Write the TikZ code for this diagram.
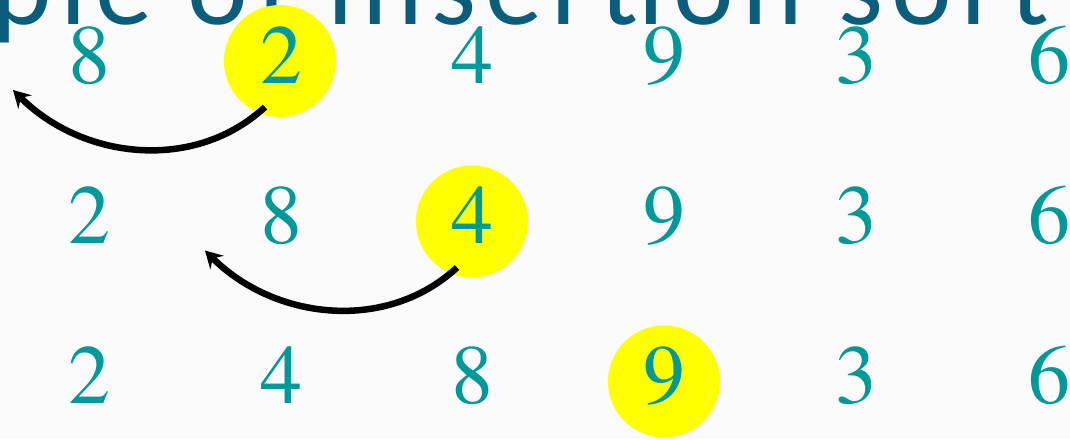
\documentclass[tikz,border=0pt]{standalone}
\usepackage{fontspec}
\usetikzlibrary{arrows.meta,calc}
\IfFontExistsTF{texgyretermes-regular.otf}
  {\newfontfamily\digitfont{texgyretermes-regular.otf}}
  {\IfFontExistsTF{LiberationSerif-Regular.ttf}
    {\newfontfamily\digitfont{LiberationSerif-Regular.ttf}}
    {\newfontfamily\digitfont{Latin Modern Roman}}}
\newfontfamily\titlefont[LetterSpace=7.7]{Carlito}
\definecolor{bgcol}{HTML}{FAFAFA}
\definecolor{titleblue}{HTML}{0B5E7B}
\definecolor{digitteal}{HTML}{009999}
\definecolor{hilite}{HTML}{FFFF00}
\tikzset{
  num/.style={anchor=base, inner sep=0pt, text=digitteal, font=\digitfont\fontsize{84}{90}\selectfont},
  hl/.style={circle, fill=hilite, minimum size=112pt, inner sep=0pt},
  moveline/.style={line width=6.5pt, draw=black, -{Stealth[length=17pt,width=19pt,inset=6pt]}},
  titletext/.style={anchor=base west, inner sep=0pt, text=titleblue, font=\titlefont\fontsize{115}{125}\selectfont}
}
\begin{document}
\begin{tikzpicture}[x=1pt,y=-1pt]
\useasboundingbox (0,0) rectangle (1070,439);
\clip (0,0) rectangle (1070,439);
\fill[bgcol] (0,0) rectangle (1070,439);
% title (partly cut off)
\node[titletext] (title) at (-9,24) {ple of insertion sort};
% highlight circles
\node[hl] (h1) at (280,61) {};
\node[hl] (h2) at (472,221.5) {};
\node[hl] (h3) at (664,381.5) {};
% row 1
\node[num] (a1) at (89,83) {8};
\node[num] (a2) at (281,83) {2};
\node[num] (a3) at (472,83) {4};
\node[num] (a4) at (664,83) {9};
\node[num] (a5) at (856,83) {3};
\node[num] (a6) at (1049,83) {6};
% row 2
\node[num] (b1) at (89,243) {2};
\node[num] (b2) at (281,243) {8};
\node[num] (b3) at (472,243) {4};
\node[num] (b4) at (664,243) {9};
\node[num] (b5) at (856,243) {3};
\node[num] (b6) at (1049,243) {6};
% row 3
\node[num] (c1) at (89,403) {2};
\node[num] (c2) at (281,403) {4};
\node[num] (c3) at (472,403) {8};
\node[num] (c4) at (664,403) {9};
\node[num] (c5) at (856,403) {3};
\node[num] (c6) at (1049,403) {6};
% arrows
\coordinate (s1) at ($(h1)+(-15,46)$);
\coordinate (t1) at ($(h1)+(-267,29)$);
\coordinate (s2) at ($(h2)+(-15,46)$);
\coordinate (t2) at ($(h2)+(-267,29)$);
\draw[moveline] (s1) .. controls +(-70,65) and +(70,70) .. (t1);
\draw[moveline] (s2) .. controls +(-70,65) and +(70,70) .. (t2);
\end{tikzpicture}
\end{document}
